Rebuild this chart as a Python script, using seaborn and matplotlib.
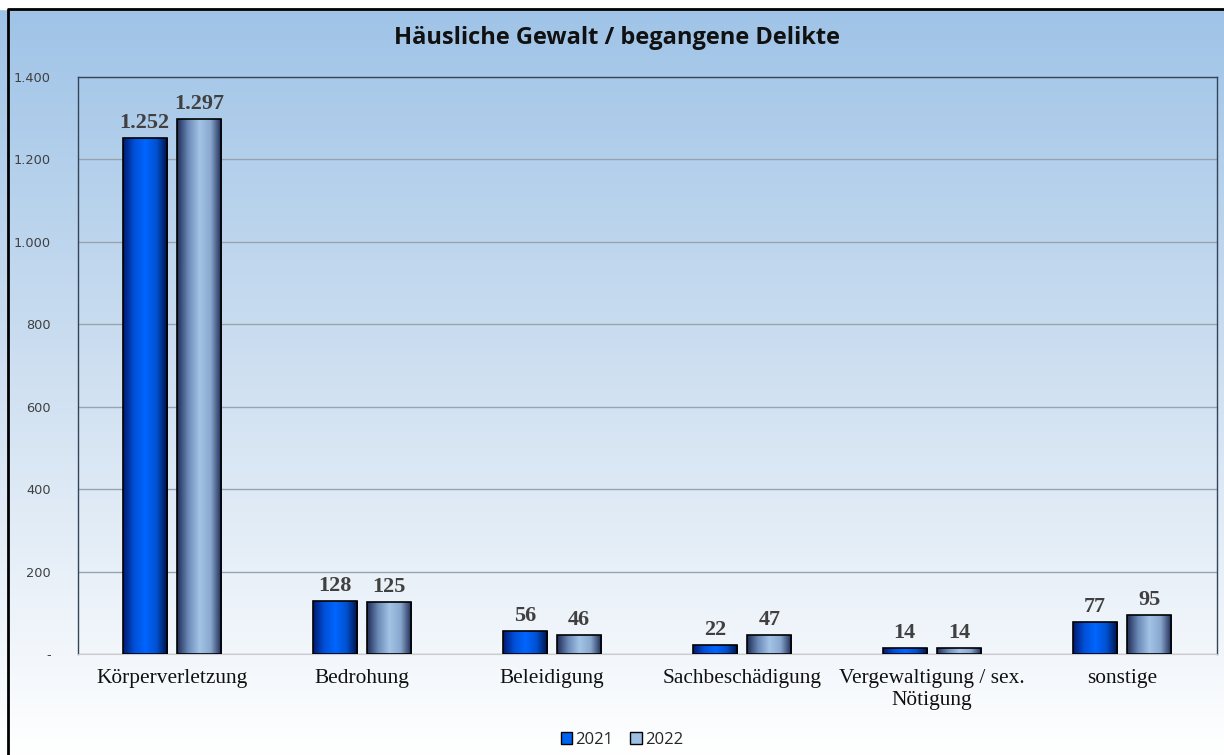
import numpy as np
import pandas as pd
import seaborn as sns
import matplotlib.pyplot as plt
from matplotlib.colors import LinearSegmentedColormap
from matplotlib.patches import Rectangle

# Daten
kategorien = ["Körperverletzung", "Bedrohung", "Beleidigung", "Sachbeschädigung",
              "Vergewaltigung / sex.\nNötigung", "sonstige"]
jahre = ["2021", "2022"]
werte_2021 = [1252, 128, 56, 22, 14, 77]
werte_2022 = [1297, 125, 46, 47, 14, 95]
y_ticks = [0, 200, 400, 600, 800, 1000, 1200, 1400]

df = pd.DataFrame({
    "kategorie": kategorien * 2,
    "jahr": [jahre[0]] * len(kategorien) + [jahre[1]] * len(kategorien),
    "anzahl": werte_2021 + werte_2022,
})


def de_fmt(v):
    return "-" if v == 0 else f"{int(v):,}".replace(",", ".")


sns.set_style("white")
plt.rcParams["font.family"] = ["DejaVu Sans"]

fig = plt.figure(figsize=(12.24, 7.55), dpi=100)

# Hintergrund mit Farbverlauf
bg = fig.add_axes([0, 0, 1, 1], zorder=0)
bg_cmap = LinearSegmentedColormap.from_list("bg", ["#9ec3e7", "#cfe0f1", "#ffffff"])
grad = np.linspace(0, 1, 256).reshape(-1, 1)
bg.imshow(grad, extent=[0, 1, 0, 1], aspect="auto", cmap=bg_cmap,
          transform=bg.transAxes)
bg.axis("off")
bg.add_patch(Rectangle((0, 1 - 9 / 755), 1, 9 / 755, color="white",
                       transform=bg.transAxes, zorder=3))
bg.plot([8 / 1224, 8 / 1224, 1.2], [-0.1, 1 - 9 / 755, 1 - 9 / 755],
        color="black", lw=2, transform=bg.transAxes, zorder=4, clip_on=False)
bg.set_xlim(0, 1)
bg.set_ylim(0, 1)

ax = fig.add_axes([78 / 1224, 1 - 654 / 755, (1217 - 78) / 1224, (654 - 77) / 755], zorder=1)
ax.set_facecolor("none")

sns.barplot(data=df, x="kategorie", y="anzahl", hue="jahr", order=kategorien,
            hue_order=jahre, width=0.574, gap=0.193, palette=["#0062f0", "#9dbfe2"],
            edgecolor="black", linewidth=1.2, ax=ax, legend=True, zorder=3)

# Farbverlauf in den Balken
cmap_21 = LinearSegmentedColormap.from_list("c21", ["#001a70", "#0050d8", "#0066ff", "#0050d0", "#001040"])
cmap_22 = LinearSegmentedColormap.from_list("c22", ["#1e2c55", "#6c8ab8", "#a3c4e6", "#8aa8cf", "#1a2850"])
hgrad = np.linspace(0, 1, 128).reshape(1, -1)
for i, cont in enumerate(ax.containers):
    cm = cmap_21 if i == 0 else cmap_22
    for p in cont.patches:
        x0, w, h = p.get_x(), p.get_width(), p.get_height()
        im = ax.imshow(hgrad, extent=[x0, x0 + w, 0, h], aspect="auto", cmap=cm, zorder=2)
        im.set_clip_path(p)
        p.set_facecolor("none")
        p.set_zorder(3)
    ax.bar_label(cont, labels=[de_fmt(v) for v in cont.datavalues], padding=3.6,
                 fontsize=16, fontweight="bold", color="#404040",
                 family="Liberation Serif")

ax.set_xlim(-0.495, 5.5)
ax.set_ylim(0, 1400)
ax.set_yticks(y_ticks)
ax.set_yticklabels([de_fmt(v) for v in y_ticks], fontsize=9.3, color="#404040")
ax.grid(axis="y", color="#9aa3ad", lw=1)
ax.set_axisbelow(True)
ax.tick_params(axis="both", length=0)
ax.tick_params(axis="y", pad=19.5)
ax.tick_params(axis="x", pad=11)
for lbl in ax.get_xticklabels():
    lbl.set_family("Liberation Serif")
    lbl.set_fontsize(15.4)
    lbl.set_color("#111111")
ax.set_xlabel("")
ax.set_ylabel("")
for s in ["top", "left", "right"]:
    ax.spines[s].set_color("#34455a")
    ax.spines[s].set_linewidth(1)
ax.spines["bottom"].set_color("#cccccc")

ax.get_legend().remove()
handles = [Rectangle((0, 0), 1, 1, facecolor="#0062f0", edgecolor="black", lw=1),
           Rectangle((0, 0), 1, 1, facecolor="#9dbfe2", edgecolor="black", lw=1)]
fig.legend(handles, jahre, loc="center", bbox_to_anchor=(622 / 1224, 1 - 740 / 755),
           ncol=2, frameon=False, handlelength=0.7, handleheight=0.7,
           handletextpad=0.2, columnspacing=1.0, prop={"family": "Open Sans", "size": 12})

fig.text(617 / 1224, 1 - 38 / 755, "Häusliche Gewalt / begangene Delikte",
         ha="center", va="center", fontsize=17, fontweight="bold",
         family="Open Sans", color="#111111")

fig.savefig("out.png", dpi=100)
